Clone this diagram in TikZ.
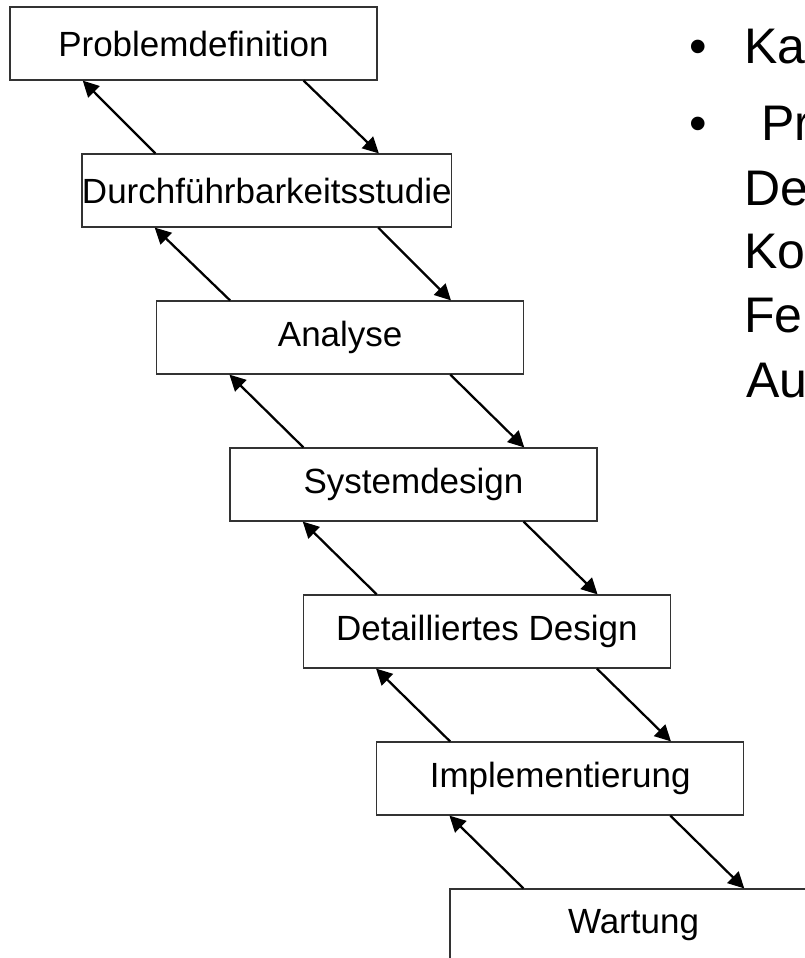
\documentclass[tikz,border=0pt]{standalone}
\usepackage{fontspec}
\setmainfont{Liberation Sans}
\usetikzlibrary{arrows.meta}
\begin{document}
\begin{tikzpicture}[x=0.75pt,y=0.75pt,
  phase/.style={draw=black!80,line width=0.9pt,minimum width=275.25pt,
    minimum height=54.75pt,inner sep=0pt,font=\fontsize{26.25}{30}\selectfont},
  flow/.style={line width=1.7pt,-{Triangle[length=12pt,width=12pt]}},
  bigtext/.style={inner sep=0pt,anchor=base west,font=\fontsize{37.5}{45}\selectfont}]
\useasboundingbox (0,0) rectangle (805,-958);

% Phases
\node[phase] (prob) at (193.5,-43.5) {Problemdefinition};
\node[phase] (durch) at (266.8,-190.5) {Durchführbarkeitsstudie};
\node[phase] (ana) at (340.2,-337.5) {Analyse};
\node[phase] (sys) at (413.5,-484.5) {Systemdesign};
\node[phase] (det) at (486.8,-631.5) {Detailliertes Design};
\node[phase] (impl) at (560.2,-778.5) {Implementierung};
\node[phase] (wart) at (633.5,-925.5) {Wartung};

% Arrows down
\draw[flow] ([xshift=-55.5pt]prob.south east) -- ([xshift=-55pt]durch.north east);
\draw[flow] ([xshift=-55.5pt]durch.south east) -- ([xshift=-55pt]ana.north east);
\draw[flow] ([xshift=-55.5pt]ana.south east) -- ([xshift=-55pt]sys.north east);
\draw[flow] ([xshift=-55.5pt]sys.south east) -- ([xshift=-55pt]det.north east);
\draw[flow] ([xshift=-55.5pt]det.south east) -- ([xshift=-55pt]impl.north east);
\draw[flow] ([xshift=-55.5pt]impl.south east) -- ([xshift=-55pt]wart.north east);

% Arrows up
\draw[flow] ([xshift=55.5pt]durch.north west) -- ([xshift=55pt]prob.south west);
\draw[flow] ([xshift=55.5pt]ana.north west) -- ([xshift=55pt]durch.south west);
\draw[flow] ([xshift=55.5pt]sys.north west) -- ([xshift=55pt]ana.south west);
\draw[flow] ([xshift=55.5pt]det.north west) -- ([xshift=55pt]sys.south west);
\draw[flow] ([xshift=55.5pt]impl.north west) -- ([xshift=55pt]det.south west);
\draw[flow] ([xshift=55.5pt]wart.north west) -- ([xshift=55pt]impl.south west);

% Text
\node[bigtext,anchor=base] (b1) at (698,-63) {\textbullet};
\node[bigtext,anchor=base] (b2) at (698,-140) {\textbullet};
\node[bigtext] (t1) at (744,-63) {Ka};
\node[bigtext] (t2) at (761,-140) {Pr};
\node[bigtext] (t3) at (744,-205) {De};
\node[bigtext] (t4) at (744,-268) {Ko};
\node[bigtext] (t5) at (744,-332) {Fe};
\node[bigtext] (t6) at (746,-397) {Au};
\end{tikzpicture}
\end{document}
